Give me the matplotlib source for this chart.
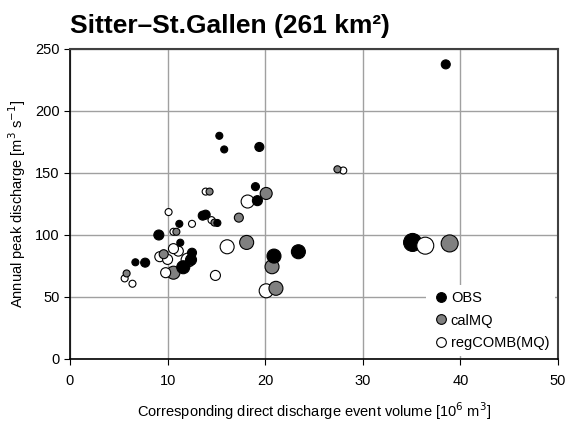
import matplotlib
matplotlib.use('Agg')
import matplotlib.pyplot as plt
from matplotlib.lines import Line2D
import numpy as np

plt.rcParams['font.family'] = ['Liberation Sans', 'DejaVu Sans']

# event volume [10^6 m3], peak discharge [m3/s], relative bubble value
obs_x = [38.5, 15.3, 15.8, 19.4, 19.0, 19.2, 13.6, 13.9, 15.1, 11.2, 9.1, 11.3,
         12.5, 11.6, 6.7, 7.7, 20.9, 23.4, 35.1, 12.4]
obs_y = [237.6, 180, 169, 171, 139, 127.7, 115.6, 116.4, 109.7, 109, 100, 93.8,
         85.7, 74, 78, 77.7, 83, 86.5, 94, 80]
obs_b = [4.5, 3.5, 3.5, 4.5, 4, 5, 4.5, 4.5, 3.5, 3.5, 5, 3.5,
         4.5, 6.5, 3.5, 4.5, 7, 7, 9, 5.5]

cal_x = [27.4, 20.1, 14.3, 17.3, 14.8, 10.9, 18.1, 20.7, 21.1, 10.6, 5.8, 38.9, 9.6]
cal_y = [153, 133.5, 135, 114, 110, 102.6, 94, 74.4, 57, 69.6, 69, 93.2, 84.5]
cal_b = [3.5, 6, 3.5, 4.5, 3.5, 3.5, 7, 7, 7, 6.5, 3.5, 8.5, 4.5]

reg_x = [28.0, 18.2, 13.9, 10.1, 12.5, 14.5, 10.6, 10.6, 11.1, 9.2, 10.0, 12.1,
         9.8, 5.6, 6.4, 14.9, 16.1, 20.1, 36.4]
reg_y = [152, 127, 135, 118.5, 109, 112, 102.6, 89, 87, 82.5, 80.3, 79.8,
         69.6, 65, 60.7, 67.4, 90.5, 55, 91.4]
reg_b = [3.5, 6.5, 3.5, 3.5, 3.5, 3.5, 3.5, 5, 5, 5, 5, 7,
         5, 3.5, 3.5, 5, 7, 7, 8.5]

series = [('OBS', obs_x, obs_y, obs_b, 'black'),
          ('calMQ', cal_x, cal_y, cal_b, '#808080'),
          ('regCOMB(MQ)', reg_x, reg_y, reg_b, 'white')]

fig = plt.figure(figsize=(5.76, 4.28), dpi=100)
ax = fig.add_axes([70 / 576, 69 / 428, 488 / 576, 310 / 428])

# all bubbles in one pass, biggest drawn first so small ones stay visible
xs, ys, bs, cs = [], [], [], []
for name, x, y, b, c in series:
    xs += x
    ys += y
    bs += b
    cs += [c] * len(x)
order = np.argsort(bs)[::-1]
xs = np.array(xs)[order]
ys = np.array(ys)[order]
bs = np.array(bs)[order]
cs = np.array(cs)[order]
sizes = (2 * bs * 0.72) ** 2
ax.scatter(xs, ys, s=sizes, c=cs, edgecolors='black', linewidths=0.8, zorder=3)

ax.set_xlim(0, 50)
ax.set_ylim(0, 250)
ax.set_xticks(np.arange(0, 51, 10))
ax.set_yticks(np.arange(0, 251, 50))
ax.grid(True, color='#a0a0a0', linewidth=1.0)
ax.set_axisbelow(True)
ax.tick_params(direction='out', length=4, labelsize=10.5, colors='black')
ax.tick_params(axis='x', pad=7)
for side in ['left', 'bottom']:
    ax.spines[side].set_linewidth(1.2)
    ax.spines[side].set_color('black')
for side in ['top', 'right']:
    ax.spines[side].set_linewidth(1.5)
    ax.spines[side].set_color('#404040')

ax.set_xlabel('Corresponding direct discharge event volume [10$^6$ m$^3$]',
              fontsize=10.5, labelpad=9)
ax.set_ylabel('Annual peak discharge [m$^3$ s$^{-1}$]', fontsize=10.5, labelpad=5)

handles = [Line2D([], [], marker='o', linestyle='none', markersize=7,
                  markerfacecolor=c, markeredgecolor='black', markeredgewidth=0.8)
           for _, _, _, _, c in series]
leg = ax.legend(handles, [s[0] for s in series], loc='lower right',
                frameon=True, fontsize=10.5, handletextpad=0.1,
                borderaxespad=0.2, labelspacing=0.6, handlelength=1.2)
leg.get_frame().set_edgecolor('white')
leg.get_frame().set_alpha(1)
leg.get_frame().set_linewidth(0)

fig.text(70 / 576, 1 - 26 / 428, 'Sitter\u2013St.Gallen (261 km\u00b2)',
         fontsize=19, fontweight='bold', ha='left', va='center')

fig.savefig('out.png', dpi=100)
